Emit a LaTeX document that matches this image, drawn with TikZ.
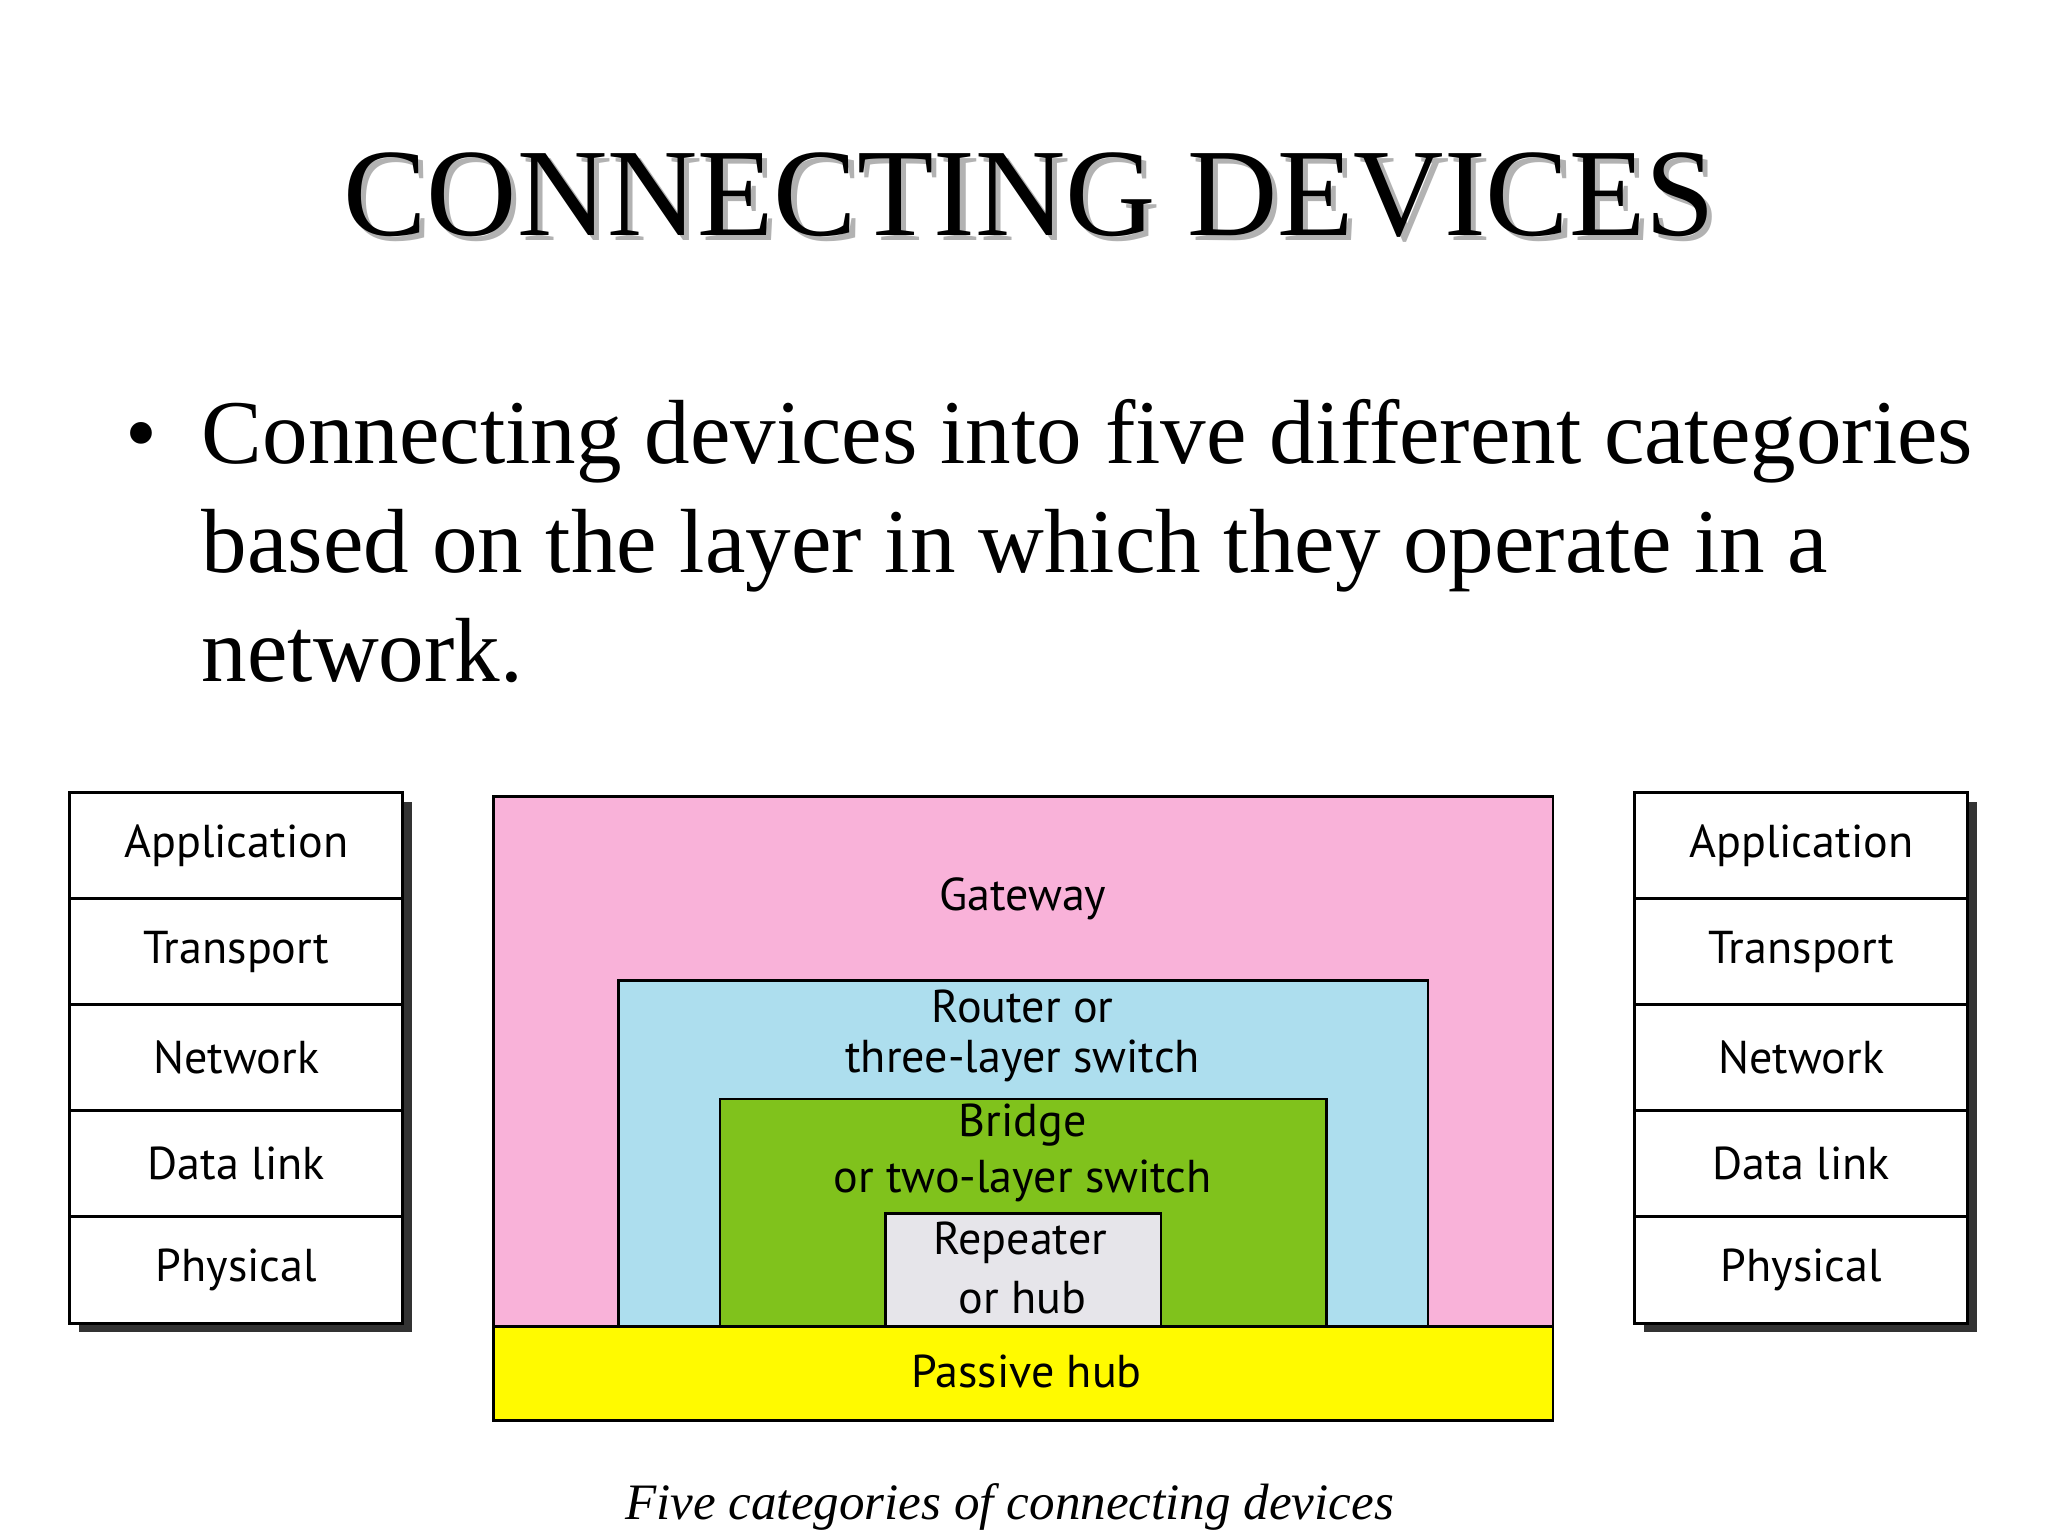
\documentclass[tikz,border=0pt]{standalone}
\usepackage{fontspec}
\setmainfont{Liberation Serif}
\newfontfamily\lab{PT Sans}
\begin{document}
\begin{tikzpicture}[x=0.5pt,y=-0.5pt,
 layer/.style={draw=black,line width=1.2pt,fill=white,minimum width=126.5pt,minimum height=40.5pt,inner sep=0pt,font=\lab\fontsize{17.5}{20}\selectfont},
 lt/.style={font=\lab\fontsize{17.5}{20}\selectfont,inner sep=0pt},
 box/.style={draw=black,line width=1pt}]
\useasboundingbox (0,0) rectangle (1556,1167);
\fill[white] (0,0) rectangle (1556,1167);
% title
\node[text=gray!60,font=\fontsize{47.5}{55}\selectfont] at (786,152) {CONNECTING DEVICES};
\node[font=\fontsize{47.5}{55}\selectfont] (title) at (782,148) {CONNECTING DEVICES};
% bullet
\node[anchor=base west,font=\fontsize{34.6}{40}\selectfont,inner sep=0pt] (b0) at (95,352) {\textbullet};
\node[anchor=base west,font=\fontsize{34.6}{40}\selectfont,inner sep=0pt] (b1) at (153,352) {Connecting devices into five different categories};
\node[anchor=base west,font=\fontsize{34.6}{40}\selectfont,inner sep=0pt] (b2) at (153,435) {based on the layer in which they operate in a};
\node[anchor=base west,font=\fontsize{34.6}{40}\selectfont,inner sep=0pt] (b3) at (153,518) {network.};
% stacks
\foreach \side/\x in {L/179.5,R/1368.5}{
 \fill[black!80] (\x-126.5+7,609) rectangle (\x+126.5+7,1012);
 \foreach \t [count=\i] in {Application,Transport,Network,Data link,Physical}{
  \node[layer] (\side\i) at (\x,{602+40.5+(\i-1)*80.6}) {\t};
 }
}
% nested
\draw[box,fill={rgb,255:red,249;green,178;blue,217}] (375,605) rectangle (1180,1008);
\draw[box,fill={rgb,255:red,173;green,222;blue,238}] (470,745) rectangle (1085,1008);
\draw[box,fill={rgb,255:red,128;green,194;blue,28}] (547,835) rectangle (1008,1008);
\draw[box,fill={rgb,255:red,230;green,229;blue,234}] (673,922) rectangle (882,1008);
\draw[box,fill={rgb,255:red,255;green,250;blue,0}] (375,1008) rectangle (1180,1079);
\node[lt] (gw) at (777,683) {Gateway};
\node[lt] (r1) at (777,765) {Router or};
\node[lt] (r2) at (777,806) {three-layer switch};
\node[lt] (br1) at (777,855) {Bridge};
\node[lt] (br2) at (777,897) {or two-layer switch};
\node[lt] (rp1) at (775,944) {Repeater};
\node[lt] (rp2) at (777,986) {or hub};
\node[lt] (ph) at (780,1042) {Passive hub};
\node[font=\itshape\fontsize{19.4}{24}\selectfont] (cap) at (767,1145) {Five categories of connecting devices};
\end{tikzpicture}
\end{document}
